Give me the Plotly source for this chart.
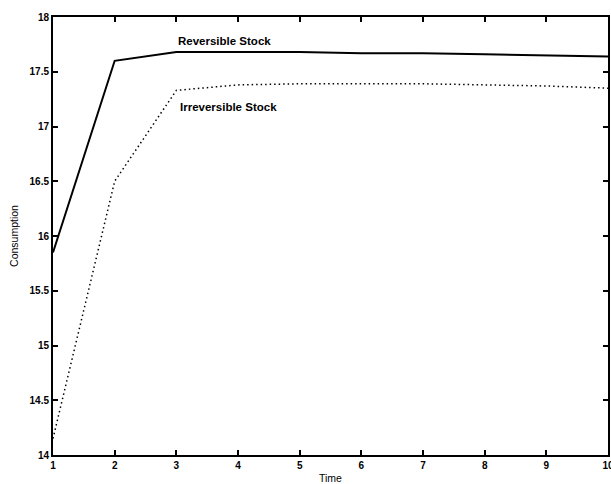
import plotly.graph_objects as go

time = [1, 2, 3, 4, 5, 6, 7, 8, 9, 10]
reversible = [15.85, 17.60, 17.68, 17.68, 17.68, 17.67, 17.67, 17.66, 17.65, 17.64]
irreversible = [14.15, 16.50, 17.33, 17.38, 17.39, 17.39, 17.39, 17.38, 17.37, 17.35]
x_ticks = [1, 2, 3, 4, 5, 6, 7, 8, 9, 10]
y_ticks = [14, 14.5, 15, 15.5, 16, 16.5, 17, 17.5, 18]
y_tick_text = ["14", "14.5", "15", "15.5", "16", "16.5", "17", "17.5", "18"]

fig = go.Figure()
fig.add_trace(go.Scatter(x=time, y=reversible, mode="lines",
                         line=dict(color="black", width=2), name="Reversible Stock"))
fig.add_trace(go.Scatter(x=time, y=irreversible, mode="lines",
                         line=dict(color="black", width=1.5, dash="1.5px,3px"),
                         name="Irreversible Stock"))

ann_font = dict(family="Liberation Sans", size=11.5, color="black", weight="bold")
fig.add_annotation(x=3.0, y=17.78, text="Reversible Stock", showarrow=False,
                   xanchor="left", yanchor="middle", font=ann_font)
fig.add_annotation(x=3.03, y=17.18, text="Irreversible Stock", showarrow=False,
                   xanchor="left", yanchor="middle", font=ann_font)

axis_font = dict(family="Liberation Sans", size=10, color="black", weight="bold")
title_font = dict(family="Liberation Sans", size=10.5, color="black")
fig.update_layout(
    width=611, height=484,
    margin=dict(l=53, r=3, t=17, b=29, autoexpand=False),
    paper_bgcolor="white", plot_bgcolor="white",
    showlegend=False,
    xaxis=dict(range=[1, 10], tickvals=x_ticks, ticks="inside", ticklen=5,
               tickwidth=1.5, tickcolor="black", ticklabeloverflow="allow",
               automargin=False,
               showline=True, linecolor="black", linewidth=2, mirror="ticks",
               showgrid=False, zeroline=False, tickfont=axis_font,
               title=dict(text="Time", font=title_font, standoff=5)),
    yaxis=dict(range=[14, 18], tickvals=y_ticks, ticktext=y_tick_text,
               ticks="inside", ticklen=5, tickwidth=1.5, tickcolor="black",
               automargin=False,
               showline=True, linecolor="black", linewidth=2, mirror="ticks",
               showgrid=False, zeroline=False, tickfont=axis_font,
               title=dict(text="Consumption", font=title_font, standoff=9)),
)
fig.write_html("out.html")
